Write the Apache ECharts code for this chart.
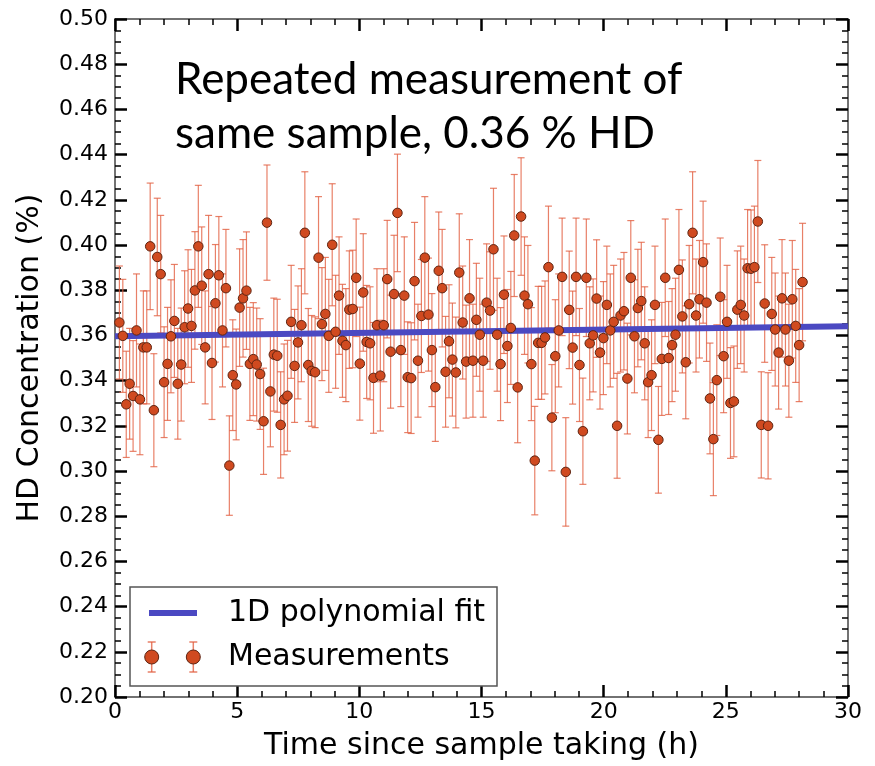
<!DOCTYPE html>
<html><head><meta charset="utf-8">
<script src="https://cdn.jsdelivr.net/npm/echarts@6/dist/echarts.min.js"></script>
<style>html,body{margin:0;padding:0;background:#fff}#main{width:875px;height:766px}</style>
</head><body><div id="main"></div>
<script>
// Measurement times (h)
const times = [0.18,0.32,0.46,0.60,0.74,0.88,1.02,1.16,1.30,1.44,
1.59,1.73,1.87,2.01,2.15,2.29,2.43,2.57,2.71,2.85,
2.99,3.13,3.27,3.41,3.55,3.69,3.83,3.97,4.11,4.25,
4.40,4.54,4.68,4.82,4.96,5.10,5.24,5.38,5.52,5.66,
5.80,5.94,6.08,6.22,6.36,6.50,6.64,6.78,6.92,7.06,
7.21,7.35,7.49,7.63,7.77,7.91,8.05,8.19,8.33,8.47,
8.61,8.75,8.89,9.03,9.17,9.31,9.45,9.59,9.73,9.87,
10.02,10.16,10.30,10.44,10.58,10.72,10.86,11.00,11.14,11.28,
11.42,11.56,11.70,11.84,11.98,12.12,12.26,12.40,12.54,12.68,
12.83,12.97,13.11,13.25,13.39,13.53,13.67,13.81,13.95,14.09,
14.23,14.37,14.51,14.65,14.79,14.93,15.07,15.21,15.35,15.49,
15.64,15.78,15.92,16.06,16.20,16.34,16.48,16.62,16.76,16.90,
17.04,17.18,17.32,17.46,17.60,17.74,17.88,18.02,18.16,18.30,
18.45,18.59,18.73,18.87,19.01,19.15,19.29,19.43,19.57,19.71,
19.85,19.99,20.13,20.27,20.41,20.55,20.69,20.83,20.97,21.11,
21.26,21.40,21.54,21.68,21.82,21.96,22.10,22.24,22.38,22.52,
22.66,22.80,22.94,23.08,23.22,23.36,23.50,23.64,23.78,23.92,
24.07,24.21,24.35,24.49,24.63,24.77,24.91,25.05,25.19,25.33,
25.47,25.61,25.75,25.89,26.03,26.17,26.31,26.45,26.59,26.73,
26.88,27.02,27.16,27.30,27.44,27.58,27.72,27.86,28.00,28.14];

// HD concentration (%)
const values = [0.3657,0.3598,0.3295,0.3386,0.3332,0.3622,0.3317,0.3547,0.3547,0.3994,
0.3269,0.3947,0.3871,0.3393,0.3474,0.3596,0.3664,0.3386,0.3471,0.3636,
0.3719,0.3642,0.3799,0.3994,0.3820,0.3547,0.3871,0.3478,0.3742,0.3866,
0.3622,0.3809,0.3024,0.3424,0.3383,0.3723,0.3764,0.3798,0.3474,0.3495,
0.3471,0.3429,0.3220,0.4099,0.3352,0.3515,0.3510,0.3204,0.3317,0.3333,
0.3660,0.3465,0.3569,0.3645,0.4054,0.3469,0.3443,0.3437,0.3944,0.3650,
0.3695,0.3598,0.4001,0.3616,0.3776,0.3576,0.3557,0.3714,0.3717,0.3855,
0.3475,0.3790,0.3571,0.3565,0.3412,0.3645,0.3422,0.3645,0.3849,0.3528,
0.3783,0.4142,0.3535,0.3776,0.3415,0.3411,0.3840,0.3488,0.3686,0.3944,
0.3692,0.3535,0.3371,0.3886,0.3809,0.3439,0.3574,0.3493,0.3436,0.3878,
0.3657,0.3484,0.3764,0.3488,0.3669,0.3603,0.3488,0.3745,0.3710,0.3981,
0.3603,0.3473,0.3780,0.3553,0.3633,0.4042,0.3370,0.4126,0.3776,0.3738,
0.3473,0.3046,0.3567,0.3567,0.3591,0.3902,0.3236,0.3508,0.3622,0.3859,
0.2996,0.3713,0.3546,0.3859,0.3469,0.3176,0.3855,0.3565,0.3600,0.3763,
0.3524,0.3588,0.3735,0.3622,0.3660,0.3200,0.3688,0.3707,0.3409,0.3855,
0.3596,0.3721,0.3752,0.3565,0.3393,0.3424,0.3735,0.3138,0.3496,0.3855,
0.3500,0.3557,0.3603,0.3890,0.3684,0.3481,0.3738,0.4054,0.3688,0.3760,
0.3924,0.3745,0.3321,0.3141,0.3402,0.3771,0.3508,0.3660,0.3301,0.3308,
0.3714,0.3735,0.3688,0.3897,0.3895,0.3902,0.4104,0.3204,0.3741,0.3200,
0.3695,0.3626,0.3524,0.3764,0.3626,0.3488,0.3760,0.3642,0.3557,0.3836];

// Measurement uncertainty (+/-, %)
const errors = [0.025,0.025,0.0235,0.0245,0.0245,0.025,0.0245,0.025,0.025,0.028,
0.025,0.026,0.026,0.0245,0.025,0.025,0.025,0.0245,0.025,0.025,
0.026,0.025,0.026,0.027,0.026,0.025,0.026,0.025,0.026,0.026,
0.025,0.026,0.022,0.0245,0.0245,0.026,0.026,0.026,0.025,0.025,
0.025,0.0245,0.0235,0.0255,0.0245,0.025,0.025,0.0235,0.0245,0.0245,
0.025,0.025,0.025,0.025,0.027,0.025,0.0245,0.0245,0.027,0.025,
0.025,0.025,0.027,0.025,0.026,0.025,0.025,0.026,0.026,0.026,
0.025,0.026,0.025,0.025,0.0245,0.025,0.0245,0.025,0.026,0.025,
0.026,0.026,0.025,0.026,0.0245,0.0245,0.026,0.025,0.025,0.027,
0.025,0.025,0.024,0.026,0.026,0.0245,0.025,0.025,0.0245,0.026,
0.025,0.025,0.026,0.025,0.025,0.025,0.025,0.026,0.026,0.027,
0.025,0.025,0.026,0.025,0.025,0.027,0.0245,0.026,0.026,0.026,
0.025,0.024,0.025,0.025,0.025,0.027,0.0235,0.025,0.025,0.026,
0.024,0.026,0.025,0.026,0.025,0.0235,0.026,0.025,0.025,0.026,
0.025,0.025,0.026,0.025,0.025,0.0232,0.025,0.026,0.0245,0.0253,
0.025,0.026,0.026,0.025,0.0245,0.0245,0.026,0.0236,0.025,0.026,
0.025,0.025,0.025,0.0267,0.025,0.025,0.026,0.027,0.025,0.026,
0.027,0.026,0.0245,0.025,0.0245,0.026,0.025,0.025,0.0245,0.0245,
0.026,0.026,0.025,0.026,0.026,0.027,0.027,0.0235,0.026,0.0235,
0.025,0.025,0.025,0.026,0.025,0.025,0.026,0.025,0.025,0.026];

// 1D polynomial fit end points
const fitX = [0, 30];
const fitY = [0.3596, 0.3640];

const xAxisTitle = 'Time since sample taking (h)';
const yAxisTitle = 'HD Concentration (%)';
const legendNames = ['1D polynomial fit', 'Measurements'];
const annotationLines = ['Repeated measurement of', 'same sample, 0.36 % HD'];

const MARK = '#d04a20', MARK_EDGE = '#5e2411', ERR = 'rgba(226,96,66,0.8)', FIT = '#4b49c2';
const TICKFONT = 'DejaVu Sans';

const errData = times.map((t, i) => [t, values[i] - errors[i], values[i] + errors[i]]);
const ptData = times.map((t, i) => [t, values[i]]);
const fitData = fitX.map((x, i) => [x, fitY[i]]);

function axisCommon(showLabel) {
  return {
    axisLine: { show: true, onZero: false, lineStyle: { color: '#444', width: 1.5 } },
    axisTick: { show: true, inside: true, length: 12, lineStyle: { color: '#000', width: 2.5 } },
    minorTick: { show: true, length: 6, lineStyle: { color: '#000', width: 1.5 } },
    splitLine: { show: false },
    axisLabel: { show: showLabel, fontFamily: TICKFONT, fontSize: 22, color: '#000', showMinLabel: true, showMaxLabel: true }
  };
}

const xb = axisCommon(true), xt = axisCommon(false), yl = axisCommon(true), yr = axisCommon(false);
xb.minorTick.splitNumber = 5; xt.minorTick.splitNumber = 5;
yl.minorTick.splitNumber = 4; yr.minorTick.splitNumber = 4;
xb.axisLabel.margin = 4;
yl.axisLabel.margin = 7;
yl.axisLabel.formatter = v => v.toFixed(2);

const chart = echarts.init(document.getElementById('main'), null, { renderer: 'canvas' });

const legendX = 130, legendY = 587;
chart.setOption({
  animation: false,
  backgroundColor: '#fff',
  grid: { left: 115, top: 19, width: 733, height: 682, containLabel: false },
  xAxis: [
    Object.assign({ type: 'value', min: 0, max: 30, interval: 5, position: 'bottom',
      name: xAxisTitle, nameLocation: 'middle', nameGap: 34,
      nameTextStyle: { fontFamily: TICKFONT, fontSize: 30, color: '#000' } }, xb),
    Object.assign({ type: 'value', min: 0, max: 30, interval: 5, position: 'top' }, xt)
  ],
  yAxis: [
    Object.assign({ type: 'value', min: 0.2, max: 0.5, interval: 0.02, position: 'left',
      name: yAxisTitle, nameLocation: 'middle', nameGap: 70, nameRotate: 90,
      nameTextStyle: { fontFamily: TICKFONT, fontSize: 30, color: '#000' } }, yl),
    Object.assign({ type: 'value', min: 0.2, max: 0.5, interval: 0.02, position: 'right' }, yr)
  ],
  series: [
    {
      type: 'custom', name: 'errorbars', z: 1, silent: true,
      data: errData, encode: { x: 0, y: [1, 2] },
      renderItem: function (params, api) {
        const x = api.value(0);
        const top = api.coord([x, api.value(2)]);
        const bot = api.coord([x, api.value(1)]);
        const w = 3.5;
        const st = { stroke: ERR, lineWidth: 1.2 };
        return { type: 'group', children: [
          { type: 'line', shape: { x1: top[0], y1: top[1], x2: bot[0], y2: bot[1] }, style: st },
          { type: 'line', shape: { x1: top[0] - w, y1: top[1], x2: top[0] + w, y2: top[1] }, style: st },
          { type: 'line', shape: { x1: bot[0] - w, y1: bot[1], x2: bot[0] + w, y2: bot[1] }, style: st }
        ] };
      }
    },
    {
      type: 'line', name: legendNames[0], z: 2, data: fitData, showSymbol: false, symbol: 'none',
      lineStyle: { color: FIT, width: 6 }
    },
    {
      type: 'scatter', name: legendNames[1], z: 3, data: ptData, symbol: 'circle', symbolSize: 9.5,
      itemStyle: { color: MARK, borderColor: MARK_EDGE, borderWidth: 1, opacity: 1 }
    }
  ],
  graphic: [
    { type: 'text', left: 175, top: 58, z: 10,
      style: { text: annotationLines[0], font: '44px Lato', fill: '#000' } },
    { type: 'text', left: 175, top: 112, z: 10,
      style: { text: annotationLines[1], font: '44px Lato', fill: '#000' } },
    { type: 'rect', z: 10, shape: { x: legendX, y: legendY, width: 367, height: 99 },
      style: { fill: '#fff', stroke: '#555', lineWidth: 1.5 } },
    { type: 'line', z: 11, shape: { x1: 149, y1: 613, x2: 197, y2: 613 },
      style: { stroke: FIT, lineWidth: 6 } },
    { type: 'text', z: 11, x: 228, y: 613,
      style: { text: legendNames[0], font: '30px "DejaVu Sans"', fill: '#000', textVerticalAlign: 'middle' } },
    { type: 'line', z: 11, shape: { x1: 151.7, y1: 642, x2: 151.7, y2: 672 }, style: { stroke: ERR, lineWidth: 1.5 } },
    { type: 'line', z: 11, shape: { x1: 147.7, y1: 642, x2: 155.7, y2: 642 }, style: { stroke: ERR, lineWidth: 1.5 } },
    { type: 'line', z: 11, shape: { x1: 147.7, y1: 672, x2: 155.7, y2: 672 }, style: { stroke: ERR, lineWidth: 1.5 } },
    { type: 'line', z: 11, shape: { x1: 193.3, y1: 642, x2: 193.3, y2: 672 }, style: { stroke: ERR, lineWidth: 1.5 } },
    { type: 'line', z: 11, shape: { x1: 189.3, y1: 642, x2: 197.3, y2: 642 }, style: { stroke: ERR, lineWidth: 1.5 } },
    { type: 'line', z: 11, shape: { x1: 189.3, y1: 672, x2: 197.3, y2: 672 }, style: { stroke: ERR, lineWidth: 1.5 } },
    { type: 'circle', z: 12, shape: { cx: 151.7, cy: 657, r: 7 }, style: { fill: MARK, stroke: MARK_EDGE, lineWidth: 1 } },
    { type: 'circle', z: 12, shape: { cx: 193.3, cy: 657, r: 7 }, style: { fill: MARK, stroke: MARK_EDGE, lineWidth: 1 } },
    { type: 'text', z: 11, x: 228, y: 657,
      style: { text: legendNames[1], font: '30px "DejaVu Sans"', fill: '#000', textVerticalAlign: 'middle' } }
  ]
});
</script>
</body></html>
